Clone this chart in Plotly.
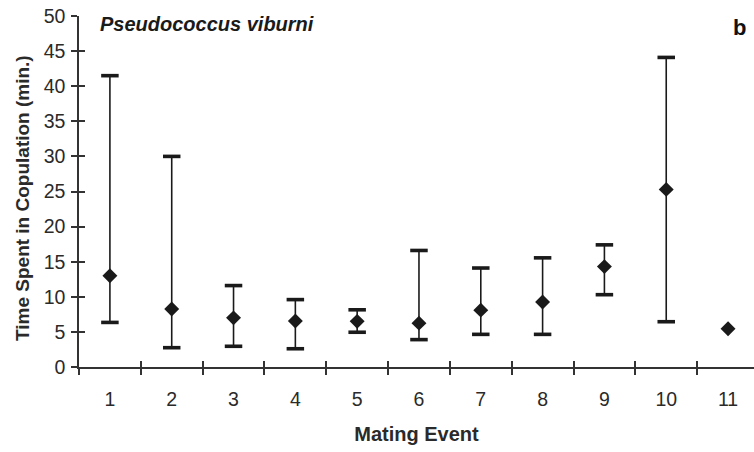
import plotly.graph_objects as go

# Mating event number and copulation duration (minutes)
events = ["1", "2", "3", "4", "5", "6", "7", "8", "9", "10", "11"]
mean_time = [13.0, 8.25, 7.0, 6.55, 6.5, 6.25, 8.1, 9.25, 14.3, 25.3, 5.45]
upper_time = [41.5, 30.0, 11.6, 9.6, 8.15, 16.6, 14.1, 15.55, 17.4, 44.1, None]
lower_time = [6.35, 2.75, 2.95, 2.6, 4.95, 3.9, 4.65, 4.65, 10.3, 6.45, None]

y_ticks = list(range(0, 51, 5))

INK = "#1a1a1a"
AXIS = "#333333"
TEXT = "#2a2a2a"
FONT = "Arial, Liberation Sans, sans-serif"

err_plus = [u - m if u is not None else 0 for u, m in zip(upper_time, mean_time)]
err_minus = [m - l if l is not None else 0 for l, m in zip(lower_time, mean_time)]

fig = go.Figure()

# range stems
fig.add_trace(go.Scatter(
    x=events, y=mean_time, mode="markers",
    marker=dict(size=1, color="rgba(0,0,0,0)"),
    error_y=dict(type="data", symmetric=False, array=err_plus, arrayminus=err_minus,
                 color=INK, thickness=1.6, width=0),
    showlegend=False, hoverinfo="skip",
))

# heavy caps at range ends
cap_x = [e for e, u in zip(events, upper_time) if u is not None] + \
        [e for e, l in zip(events, lower_time) if l is not None]
cap_y = [u for u in upper_time if u is not None] + [l for l in lower_time if l is not None]
fig.add_trace(go.Scatter(
    x=cap_x, y=cap_y, mode="markers",
    marker=dict(symbol="line-ew-open", size=12.5, color=INK, line=dict(width=3.6, color=INK)),
    showlegend=False, hoverinfo="skip",
))

# mean markers
fig.add_trace(go.Scatter(
    x=events, y=mean_time, mode="markers",
    marker=dict(symbol="diamond", size=11.5, color=INK, line=dict(width=0)),
    showlegend=False,
))

# helper trace so the overlay axes (inner tick halves) are drawn
fig.add_trace(go.Scatter(
    x=events, y=mean_time, mode="markers", xaxis="x2", yaxis="y2",
    marker=dict(size=1, color="rgba(0,0,0,0)"), showlegend=False, hoverinfo="skip",
))

x_range = [-0.5, 10.42]
common_x = dict(type="category", categoryorder="array", categoryarray=events,
                range=x_range, tickson="boundaries", ticklen=6, tickwidth=1.5,
                tickcolor=AXIS, showgrid=False, zeroline=False, fixedrange=True)
common_y = dict(range=[0, 50], tickvals=y_ticks, ticklen=6, tickwidth=1.5,
                tickcolor=AXIS, showgrid=False, zeroline=False, fixedrange=True)

fig.update_layout(
    width=754, height=452,
    margin=dict(l=79, r=0, t=16, b=85),
    paper_bgcolor="white", plot_bgcolor="white",
    font=dict(family=FONT, color=TEXT),
    xaxis=dict(**common_x, ticks="outside", showline=True, linecolor=AXIS, linewidth=1.5,
               tickfont=dict(size=19.5, color=TEXT), ticklabelstandoff=14,
               title=dict(text="<b>Mating Event</b>", font=dict(size=20, color=TEXT),
                          standoff=18)),
    xaxis2=dict(**common_x, ticks="inside", overlaying="x", showline=False,
                showticklabels=False),
    yaxis=dict(**common_y, ticks="outside", showline=True, linecolor=AXIS, linewidth=1.5,
               tickfont=dict(size=19.5, color=TEXT), ticklabelstandoff=2),
    yaxis2=dict(**common_y, ticks="inside", overlaying="y", showline=False,
                showticklabels=False),
)

# texts placed in paper coordinates of the plotting area
plot_w = 754 - 79
plot_h = 452 - 16 - 85
fig.add_annotation(text="<b>Time Spent in Copulation (min.)</b>",
                   x=(22 - 79) / plot_w, y=(452 - 85 - 198) / plot_h,
                   xref="paper", yref="paper", xanchor="center", yanchor="middle",
                   textangle=-90, showarrow=False,
                   font=dict(size=19, color=TEXT, family=FONT))
fig.add_annotation(text="<b><i>Pseudococcus viburni</i></b>",
                   x=(98 - 79) / plot_w, y=(452 - 85 - 24) / plot_h,
                   xref="paper", yref="paper", xanchor="left", yanchor="middle",
                   showarrow=False, font=dict(size=20, color=INK, family=FONT))
fig.add_annotation(text="<b>b</b>",
                   x=(748 - 79) / plot_w, y=(452 - 85 - 27) / plot_h,
                   xref="paper", yref="paper", xanchor="right", yanchor="middle",
                   showarrow=False, font=dict(size=22, color="#111111", family=FONT))

fig.write_html("out.html")
